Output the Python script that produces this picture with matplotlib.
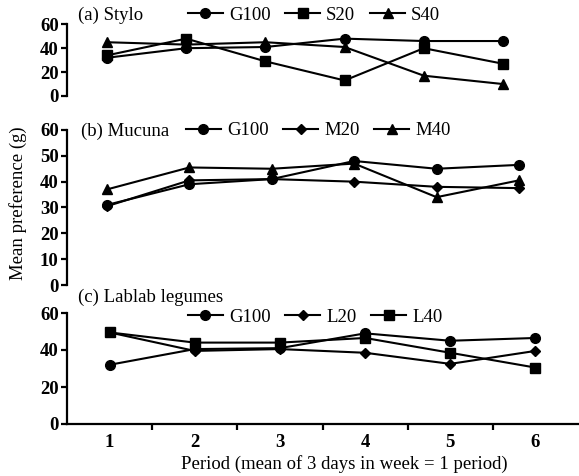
import numpy as np
import matplotlib
matplotlib.use("Agg")
import matplotlib.pyplot as plt
from matplotlib.pyplot import MultipleLocator

plt.rcParams['font.family'] = ['Liberation Serif', 'DejaVu Serif']

period = [1, 2, 3, 4, 5, 6]

# (a) Stylo
stylo_g100 = [32, 40, 41, 48, 46, 46]
stylo_s20 = [34, 48, 29, 13, 40, 27]
stylo_s40 = [45, 43, 45, 41, 17, 10]

# (b) Mucuna
mucuna_g100 = [31, 39, 41, 48, 45, 46.5]
mucuna_m20 = [30.5, 40.5, 41, 40, 38, 37.5]
mucuna_m40 = [37, 45.5, 45, 47, 34, 40.5]

# (c) Lablab legumes
lablab_g100 = [32, 40.5, 41, 49, 45, 46.5]
lablab_l20 = [49.5, 39.5, 40.5, 38.5, 32.5, 39.5]
lablab_l40 = [49.5, 44, 44, 46.5, 38.5, 30.5]

W, H = 579, 476
fig = plt.figure(figsize=(W / 100, H / 100), dpi=100)

left = 67 / W
width = (578 - 67) / W
ax1 = fig.add_axes([left, (H - 96) / H, width, (96 - 24.3) / H])
ax2 = fig.add_axes([left, (H - 285) / H, width, (285 - 130) / H])
ax3 = fig.add_axes([left, (H - 424) / H, width, (424 - 313) / H])

ms = 7
lw = 1.5
kw = dict(color='black', lw=lw, markersize=ms)
kd = dict(color='black', lw=lw, markersize=5.5)

ax1.plot(period, stylo_g100, marker='o', label='G100', **kw)
ax1.plot(period, stylo_s20, marker='s', label='S20', **kw)
ax1.plot(period, stylo_s40, marker='^', label='S40', **kw)
ax1.set_xlim(0.495, 6.947)
ax1.set_ylim(0, 60)
ax1.yaxis.set_major_locator(MultipleLocator(20))

ax2.plot(period, mucuna_g100, marker='o', label='G100', **kw)
ax2.plot(period, mucuna_m20, marker='D', label='M20', **kd)
ax2.plot(period, mucuna_m40, marker='^', label='M40', **kw)
ax2.set_xlim(0.515, 6.716)
ax2.set_ylim(0, 60)
ax2.yaxis.set_major_locator(MultipleLocator(10))

ax3.plot(period, lablab_g100, marker='o', label='G100', **kw)
ax3.plot(period, lablab_l20, marker='D', label='L20', **kd)
ax3.plot(period, lablab_l40, marker='s', label='L40', **kw)
ax3.set_xlim(0.5, 6.5)
ax3.set_ylim(0, 60)
ax3.yaxis.set_major_locator(MultipleLocator(20))

fs = 13.5
for ax in (ax1, ax2, ax3):
    for s in ['top', 'right']:
        ax.spines[s].set_visible(False)
    ax.spines['left'].set_linewidth(1.6)
    ax.spines['bottom'].set_linewidth(1.6)
    ax.tick_params(axis='y', direction='out', length=4.5, width=1.6, pad=1.5, labelsize=fs)
    for t in ax.get_yticklabels():
        t.set_fontweight('bold')
    ax.patch.set_visible(False)

for ax in (ax1, ax2):
    ax.spines['bottom'].set_visible(False)
    ax.set_xticks([])

ax3.set_xticks(period)
ax3.set_xticks(np.arange(1.5, 6.5, 1), minor=True)
ax3.tick_params(axis='x', which='major', length=0, pad=7, labelsize=fs)
ax3.tick_params(axis='x', which='minor', direction='out', length=4.5, width=1.6)
for t in ax3.get_xticklabels():
    t.set_fontweight('bold')

leg_kw = dict(loc='center left', ncol=3, frameon=False, fontsize=fs, borderpad=0,
              borderaxespad=0, handlelength=1.85, handletextpad=0.32, columnspacing=0.8)

tx = (78 - 67) / 511
ax1.text(tx, 1.13, '(a) Stylo', transform=ax1.transAxes,
         fontsize=fs, va='center', ha='left')
ax1.legend(bbox_to_anchor=(0.237, 1.13), **leg_kw)

ax2.text((81 - 67) / 511, 0.994, '(b) Mucuna', transform=ax2.transAxes,
         fontsize=fs, va='center', ha='left')
ax2.legend(bbox_to_anchor=(0.233, 0.994), **leg_kw)

ax3.text(tx, 1.144, '(c) Lablab legumes', transform=ax3.transAxes,
         fontsize=fs, va='center', ha='left')
ax3.legend(bbox_to_anchor=(0.237, 0.964), **leg_kw)

fig.text(18 / W, (H - 203) / H, 'Mean preference (g)', rotation=90,
         ha='center', va='center', fontsize=fs)
fig.text(344 / W, (H - 464) / H, 'Period (mean of 3 days in week = 1 period)',
         ha='center', va='center', fontsize=fs)

fig.savefig('out.png', dpi=100)
